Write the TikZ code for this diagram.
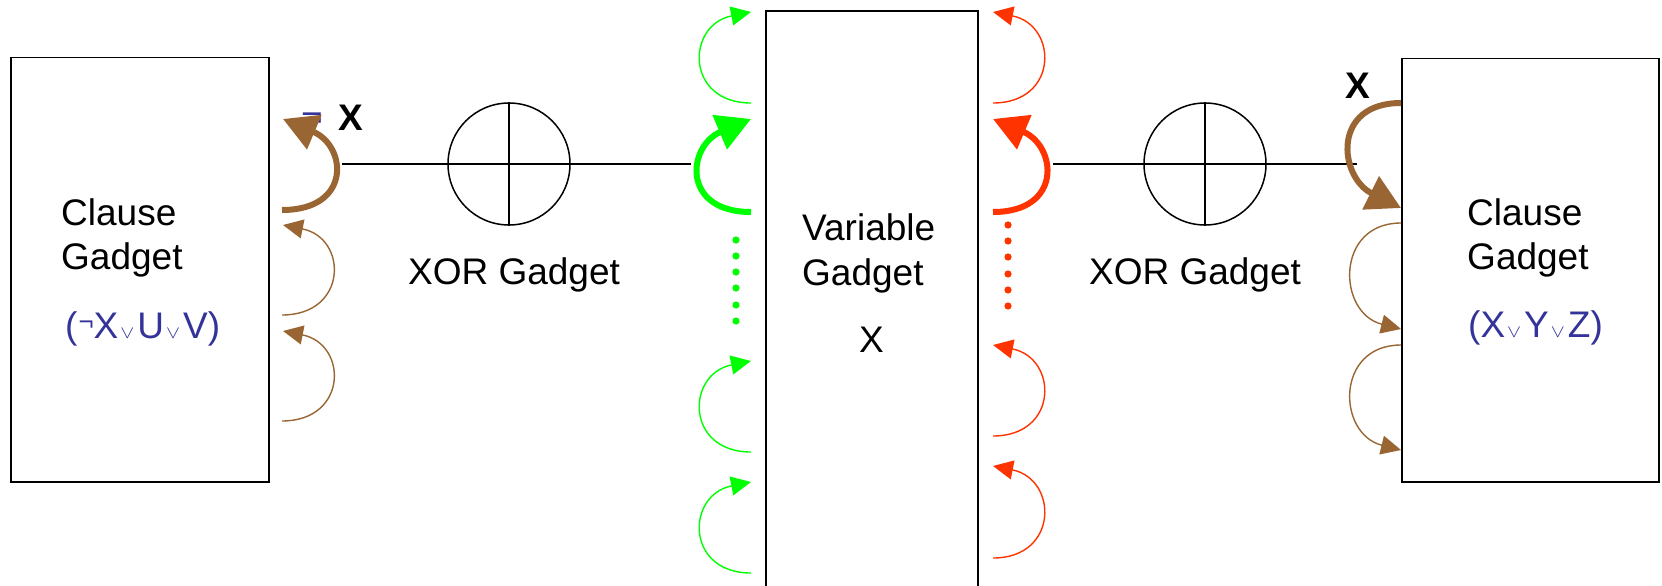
\documentclass[tikz,border=0pt]{standalone}
\usepackage{fontspec}
\setmainfont{Liberation Sans}
\usetikzlibrary{arrows.meta}
\definecolor{brownc}{HTML}{996633}
\definecolor{greenc}{HTML}{00FF00}
\definecolor{redc}{HTML}{FF3300}
\definecolor{bluec}{HTML}{333399}
\newcommand{\orsym}{\kern2pt\resizebox{14pt}{10pt}{$\vee$}\kern3pt}
\newcommand{\negsmall}{\kern1pt\raisebox{8pt}{\fontsize{26}{26}\selectfont ¬}}
\tikzset{
  gbox/.style={draw, line width=1.5pt, inner sep=0pt, anchor=north west},
  lbl/.style={anchor=base west, inner sep=0pt, font=\fontsize{37}{44}\selectfont},
  clbl/.style={anchor=base, inner sep=0pt, font=\fontsize{37}{44}\selectfont},
  thinarr/.style={line width=1.4pt, -{Triangle[length=20pt,width=19pt]}},
  thickarr/.style={line width=6pt, -{Triangle[length=34pt,width=36pt]}},
  xorc/.style={draw, circle, line width=1.5pt, minimum size=122pt, inner sep=0pt},
  wire/.style={line width=1.5pt},
}
\begin{document}
\begin{tikzpicture}[x=1pt,y=-1pt]
\useasboundingbox (0,0) rectangle (1662,586);
% clause boxes
\node[gbox, minimum width=258pt, minimum height=424pt] (cg1) at (10,57) {};
\node[gbox, minimum width=257pt, minimum height=423pt] (cg2) at (1401,58) {};
% variable box (extends below the picture)
\draw[wire] (766,586) coordinate (vb1) -- (766,11) coordinate (vb2) -- (978,11) coordinate (vb3) -- (978,586) coordinate (vb4);
% texts
\node[lbl] (c1a) at (61,225) {Clause};
\node[lbl] (c1b) at (61,269) {Gadget};
\node[lbl, text=bluec] (c1c) at (65,338) {(\negsmall X\orsym U\orsym V)};
\node[lbl] (c2a) at (1467,225) {Clause};
\node[lbl] (c2b) at (1467,269) {Gadget};
\node[lbl, text=bluec] (c2c) at (1468,337) {(X\orsym Y\orsym Z)};
\node[lbl] (v1) at (802,240) {Variable};
\node[lbl] (v2) at (802,285) {Gadget};
\node[lbl] (v3) at (859,352) {X};
\node[clbl] (xl1) at (514,284) {XOR Gadget};
\node[clbl] (xl2) at (1195,284) {XOR Gadget};
\node[lbl, text=bluec] (neg1) at (301,126) {¬};
\node[lbl, font=\fontsize{37}{44}\selectfont\bfseries] (lx1) at (338,130) {X};
\node[lbl, font=\fontsize{37}{44}\selectfont\bfseries] (lx2) at (1345,98) {X};
% XOR gadgets
\coordinate (wa) at (342,164);
\coordinate (wb) at (691,164);
\coordinate (wc) at (1053,164);
\coordinate (wd) at (1357,164);
\node[xorc] (xor1) at (509,164) {};
\node[xorc] (xor2) at (1205,164) {};
\draw[wire] (wa) -- (wb);
\draw[wire] (wc) -- (wd);
\draw[wire] (xor1.north) -- (xor1.south);
\draw[wire] (xor2.north) -- (xor2.south);
% left clause arrows
\draw[thickarr, brownc] (282,210) coordinate (lb1s) .. controls +(70,0) and +(64,27) .. (283,119) coordinate (lb1e);
\draw[thinarr, brownc] (282,315) coordinate (lb2s) .. controls +(66,0) and +(65,13) .. (283,225) coordinate (lb2e);
\draw[thinarr, brownc] (282,421) coordinate (lb3s) .. controls +(66,0) and +(65,13) .. (283,331) coordinate (lb3e);
% green arrows
\draw[thinarr, greenc] (751,103) coordinate (g1s) .. controls +(-66,0) and +(-65,13) .. (751,12) coordinate (g1e);
\draw[thickarr, greenc] (751,212) coordinate (g2s) .. controls +(-70,0) and +(-64,27) .. (751,119) coordinate (g2e);
\draw[thinarr, greenc] (751,452) coordinate (g3s) .. controls +(-66,0) and +(-65,13) .. (751,361) coordinate (g3e);
\draw[thinarr, greenc] (751,573) coordinate (g4s) .. controls +(-66,0) and +(-65,13) .. (751,482) coordinate (g4e);
\foreach \yy in {240,256,272,288,305,321} \fill[greenc] (736,\yy) circle[radius=3.6pt];
% red arrows
\draw[thinarr, redc] (993,103) coordinate (r1s) .. controls +(66,0) and +(65,13) .. (993,12) coordinate (r1e);
\draw[thickarr, redc] (993,212) coordinate (r2s) .. controls +(70,0) and +(64,27) .. (993,119) coordinate (r2e);
\draw[thinarr, redc] (993,436) coordinate (r3s) .. controls +(66,0) and +(65,13) .. (993,345) coordinate (r3e);
\draw[thinarr, redc] (993,558) coordinate (r4s) .. controls +(66,0) and +(65,13) .. (993,466) coordinate (r4e);
\foreach \yy in {225,241,257,274,290,306} \fill[redc] (1008,\yy) circle[radius=3.6pt];
% right clause arrows
\draw[thickarr, brownc] (1401,103) coordinate (rb1s) .. controls +(-70,0) and +(-62,-31) .. (1401,208) coordinate (rb1e);
\draw[thinarr, brownc] (1401,223) coordinate (rb2s) .. controls +(-66,0) and +(-64,-16) .. (1401,329) coordinate (rb2e);
\draw[thinarr, brownc] (1401,345) coordinate (rb3s) .. controls +(-66,0) and +(-64,-16) .. (1401,450) coordinate (rb3e);
\end{tikzpicture}
\end{document}
